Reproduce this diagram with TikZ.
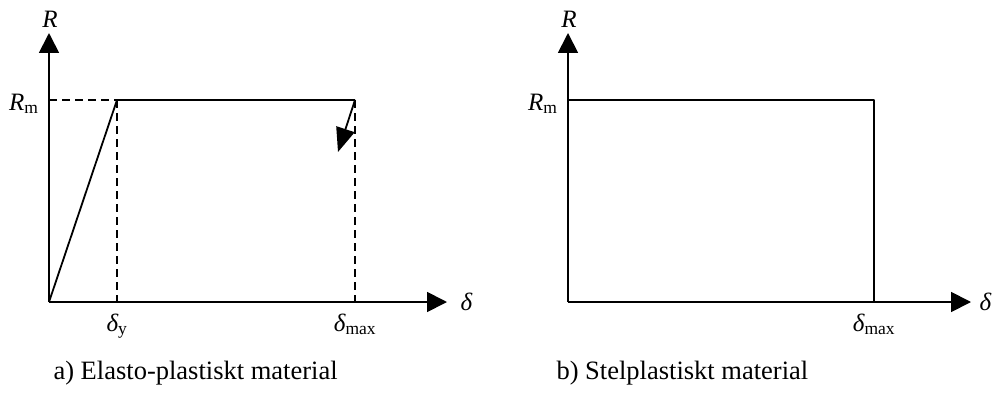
\documentclass[tikz,border=0pt]{standalone}
\usepackage{amsmath}
\usepackage{fontspec}
\setmainfont{Liberation Serif}
\usetikzlibrary{arrows.meta}

\begin{document}
\begin{tikzpicture}[x=1pt, y=-1pt, line join=round, every node/.style={font=\fontsize{25}{30}\selectfont}, caption/.style={font=\fontsize{26.5}{31}\selectfont, anchor=base west}, axis/.style={line width=1.8pt, -{Triangle[length=20pt, width=20pt]}}, curve/.style={line width=1.8pt}, guide/.style={line width=1.5pt, dash pattern=on 8pt off 5pt}]

	\useasboundingbox (0,0) rectangle (992,396);

	% a) Elasto-plastiskt
	\coordinate (O1) at (49,302);
	\coordinate (Y1) at (49,33);
	\coordinate (X1) at (447,302);
	\coordinate (M1) at (49,100);
	\coordinate (P1) at (117,100);
	\coordinate (Q1) at (355,100);
	\coordinate (U1) at (338,152);

	\draw[axis] (O1) -- (Y1);
	\draw[axis] (O1) -- (X1);
	\draw[guide] (M1) -- (P1);
	\draw[guide] (P1) -- (P1 |- O1);
	\draw[guide] (Q1) -- (Q1 |- O1);
	\draw[curve] (O1) -- (P1) -- (Q1);
	\draw[curve, -{Triangle[length=24pt, width=19pt]}] (Q1) -- (U1);

	\node (R1) at (50,19) {\textit{R}};
	\node[anchor=base east] (Rm1) at (42,110) {$\textit{R}_{\text{m}}$};
	\node[anchor=west] (d1) at (457,302) {\textit{δ}};
	\node[anchor=north] (dy1) at (117,310) {$\textit{δ}_{\text{y}}$};
	\node[anchor=north] (dmax1) at (355,310) {$\textit{δ}_{\text{max}}$};
	\node[caption] (cap1) at (50,379) {a) Elasto-plastiskt material};

	% b) Stelplastiskt
	\coordinate (O2) at (568,302);
	\coordinate (Y2) at (568,33);
	\coordinate (X2) at (971,302);
	\coordinate (M2) at (568,100);
	\coordinate (C2) at (874,100);

	\draw[axis] (O2) -- (Y2);
	\draw[axis] (O2) -- (X2);
	\draw[curve] (M2) -- (C2) -- (C2 |- O2);

	\node (R2) at (569,19) {\textit{R}};
	\node[anchor=base east] (Rm2) at (561,110) {$\textit{R}_{\text{m}}$};
	\node[anchor=west] (d2) at (976,302) {\textit{δ}};
	\node[anchor=north] (dmax2) at (874,310) {$\textit{δ}_{\text{max}}$};
	\node[caption] (cap2) at (553,379) {b) Stelplastiskt material};

\end{tikzpicture}
\end{document}
